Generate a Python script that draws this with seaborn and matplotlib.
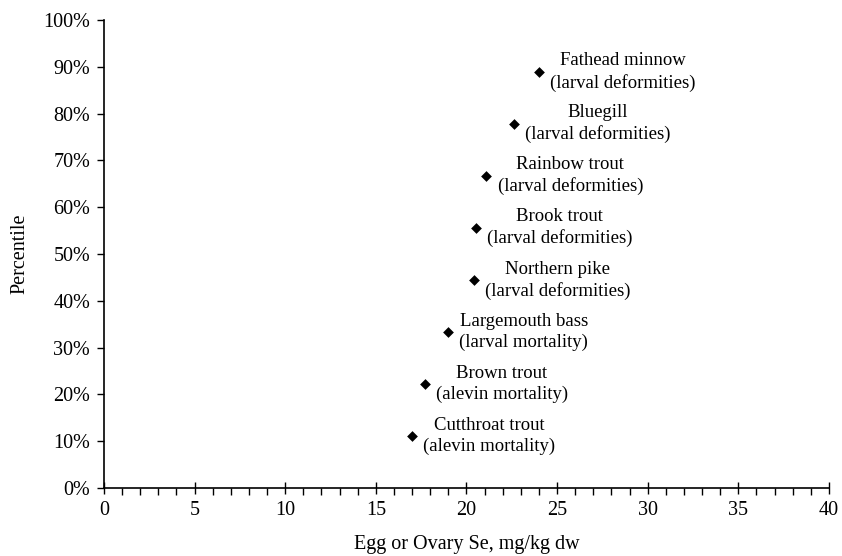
import matplotlib
matplotlib.use("Agg")
import matplotlib.pyplot as plt
import seaborn as sns
import pandas as pd
from matplotlib.ticker import MultipleLocator, PercentFormatter

# data
species = ["Cutthroat trout", "Brown trout", "Largemouth bass", "Northern pike",
           "Brook trout", "Rainbow trout", "Bluegill", "Fathead minnow"]
endpoint = ["alevin mortality", "alevin mortality", "larval mortality",
            "larval deformities", "larval deformities", "larval deformities",
            "larval deformities", "larval deformities"]
se_conc = [17.0, 17.7, 19.0, 20.4, 20.5, 21.1, 22.6, 24.0]
percentile = [11.1, 22.2, 33.3, 44.4, 55.6, 66.7, 77.8, 88.9]

df = pd.DataFrame({"species": species, "endpoint": endpoint,
                   "se": se_conc, "pct": percentile})

sns.set_style("white")
plt.rcParams["font.family"] = ["Liberation Serif", "DejaVu Serif"]

fig = plt.figure(figsize=(8.42, 5.56), dpi=100)
ax = fig.add_axes([0.1235, 0.1223, 0.861, 0.8417])

sns.scatterplot(data=df, x="se", y="pct", marker="D", s=30, color="black",
                edgecolor="black", linewidth=0, ax=ax, zorder=3)

for _, r in df.iterrows():
    ax.annotate(f"{r['species']}\n({r['endpoint']})", (r["se"], r["pct"]),
                xytext=(8, 0), textcoords="offset points", ha="left",
                va="center", multialignment="center", fontsize=13.5,
                linespacing=1.3, color="black")

ax.set_xlim(0, 40)
ax.set_ylim(0, 100)
ax.xaxis.set_major_locator(MultipleLocator(5))
ax.xaxis.set_minor_locator(MultipleLocator(1))
ax.yaxis.set_major_locator(MultipleLocator(10))
ax.yaxis.set_major_formatter(PercentFormatter(decimals=0))

ax.tick_params(axis="x", which="major", direction="inout", length=9,
               width=1, color="black", labelsize=14.5, pad=5,
               labelcolor="black")
ax.tick_params(axis="x", which="minor", direction="out", length=5,
               width=1, color="black")
ax.tick_params(axis="y", which="major", direction="out", length=5,
               width=1, color="black", labelsize=14.5, pad=5,
               labelcolor="black")
ax.tick_params(bottom=True, left=True, which="both")

for side in ["top", "right"]:
    ax.spines[side].set_visible(False)
for side in ["left", "bottom"]:
    ax.spines[side].set_color("black")
    ax.spines[side].set_linewidth(1.2)

ax.set_xlabel("Egg or Ovary Se, mg/kg dw", fontsize=14.5, labelpad=10.5,
              color="black")
ax.set_ylabel("Percentile", fontsize=14.5, labelpad=10, color="black")

fig.savefig("out.png", dpi=100)
